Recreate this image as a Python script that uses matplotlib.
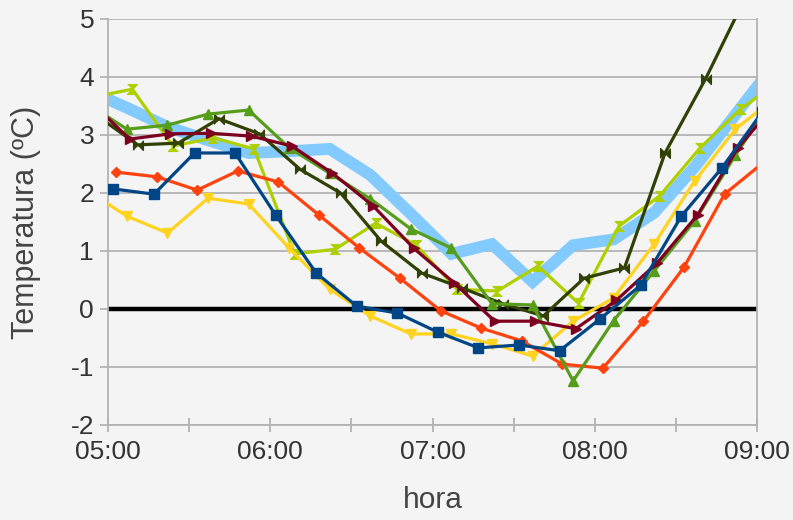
import matplotlib
matplotlib.use("Agg")
import matplotlib.pyplot as plt
from matplotlib.ticker import FixedLocator, FixedFormatter

plt.rcParams['font.family'] = ['Liberation Sans', 'DejaVu Sans']

def hm(s):
    h, m = s.split(':')
    return int(h) * 60 + int(m)

def times(start, n):
    t0 = hm(start)
    return [t0 + 15 * k for k in range(n)]

# ---- data (temperature in ºC) ----
blue_t = times('05:02', 17)
blue_v = [2.07, 1.98, 2.69, 2.69, 1.62, 0.62, 0.05, -0.07, -0.40, -0.67, -0.62, -0.72, -0.17, 0.41, 1.60, 2.43, 3.40]

orange_t = times('05:03', 17)
orange_v = [2.36, 2.28, 2.05, 2.38, 2.19, 1.62, 1.05, 0.53, -0.03, -0.33, -0.55, -0.95, -1.02, -0.21, 0.72, 1.98, 2.55]

yellow_t = times('04:52', 18)
yellow_v = [2.05, 1.60, 1.31, 1.91, 1.81, 1.05, 0.34, -0.12, -0.43, -0.43, -0.60, -0.81, -0.21, 0.19, 1.12, 2.21, 3.10, 3.65]

green_t = times('04:52', 18)
green_v = [3.55, 3.10, 3.17, 3.36, 3.43, 2.78, 2.34, 1.90, 1.38, 1.05, 0.09, 0.07, -1.24, -0.20, 0.66, 1.52, 2.65, 3.70]

maroon_t = times('04:53', 18)
maroon_v = [3.60, 2.93, 3.02, 3.03, 2.98, 2.81, 2.34, 1.78, 1.05, 0.45, -0.21, -0.21, -0.34, 0.15, 0.79, 1.62, 2.78, 3.60]

lightblue_t = times('04:52', 18)
lightblue_v = [3.78, 3.47, 3.14, 2.91, 2.69, 2.72, 2.76, 2.31, 1.64, 0.95, 1.12, 0.47, 1.10, 1.20, 1.66, 2.45, 3.35, 4.25]

olive_t = times('04:56', 17)
olive_v = [3.33, 2.83, 2.86, 3.28, 3.02, 2.41, 2.00, 1.17, 0.62, 0.36, 0.09, -0.12, 0.53, 0.71, 2.69, 3.97, 5.40]

lgreen_t = times('04:54', 18)
lgreen_v = [3.65, 3.79, 2.81, 2.95, 2.76, 0.95, 1.03, 1.48, 1.10, 0.34, 0.31, 0.74, 0.10, 1.43, 1.95, 2.78, 3.45, 3.95]

x_tick_labels = ['05:00', '06:00', '07:00', '08:00', '09:00']
y_ticks = [-2, -1, 0, 1, 2, 3, 4, 5]
x_label = 'hora'
y_label = 'Temperatura (ºC)'

# ---- figure ----
bg = '#f4f4f4'
fig = plt.figure(figsize=(7.93, 5.20), dpi=100, facecolor=bg)
ax = fig.add_axes([108 / 793, 1 - 425 / 520, (757 - 108) / 793, (425 - 19) / 520])
ax.set_facecolor(bg)

bowtie = [(-1, -1), (-1, 1), (1, -1), (1, 1)]
sandglass = [(-1, 1), (1, 1), (-1, -1), (1, -1)]

lw = 2.3
ax.plot(lightblue_t, lightblue_v, color='#83caff', lw=8.5, solid_joinstyle='miter', zorder=2)
ax.axhline(0, color='black', lw=3.2, zorder=2.5)
ax.plot(lgreen_t, lgreen_v, color='#aecf00', lw=lw, marker=sandglass, ms=7, zorder=3)
ax.plot(yellow_t, yellow_v, color='#ffd320', lw=lw, marker='v', ms=7, zorder=3)
ax.plot(orange_t, orange_v, color='#ff420e', lw=lw, marker='D', ms=5.5, zorder=3)
ax.plot(olive_t, olive_v, color='#314004', lw=lw, marker=bowtie, ms=7, zorder=3)
ax.plot(green_t, green_v, color='#579d1c', lw=lw, marker='^', ms=7, zorder=3)
ax.plot(maroon_t, maroon_v, color='#7e0021', lw=lw, marker='>', ms=7, zorder=3)
ax.plot(blue_t, blue_v, color='#004586', lw=lw, marker='s', ms=7, zorder=3)

x_major = [hm(s) for s in x_tick_labels]
ax.set_xlim(x_major[0], x_major[-1])
ax.set_ylim(y_ticks[0], y_ticks[-1])
ax.xaxis.set_major_locator(FixedLocator(x_major))
ax.xaxis.set_major_formatter(FixedFormatter(x_tick_labels))
ax.xaxis.set_minor_locator(FixedLocator([m + 30 for m in x_major[:-1]]))
ax.set_yticks(y_ticks)
ax.set_yticklabels([str(v) for v in y_ticks])

ax.grid(axis='y', color='#b3b3b3', lw=1.3, zorder=1)
ax.set_axisbelow(True)
for side in ['left', 'right', 'bottom']:
    ax.spines[side].set_color('#b3b3b3')
    ax.spines[side].set_linewidth(1.3)
ax.spines['top'].set_visible(False)

tc = '#333333'
ax.tick_params(axis='x', which='both', direction='inout', length=10, width=1.3, color='#b3b3b3',
               labelsize=19, labelcolor=tc, pad=6)
ax.tick_params(axis='y', direction='out', length=6, width=1.3, color='#b3b3b3',
               labelsize=19, labelcolor=tc, pad=4)

ax.set_xlabel(x_label, fontsize=21.5, color='#444444')
ax.set_ylabel(y_label, fontsize=22, color='#444444')
ax.xaxis.set_label_coords(0.5, -(486 - 425) / 406)
ax.yaxis.set_label_coords(-(108 - 41) / 649, 0.5)

fig.savefig('out.png', dpi=100, facecolor=bg)
